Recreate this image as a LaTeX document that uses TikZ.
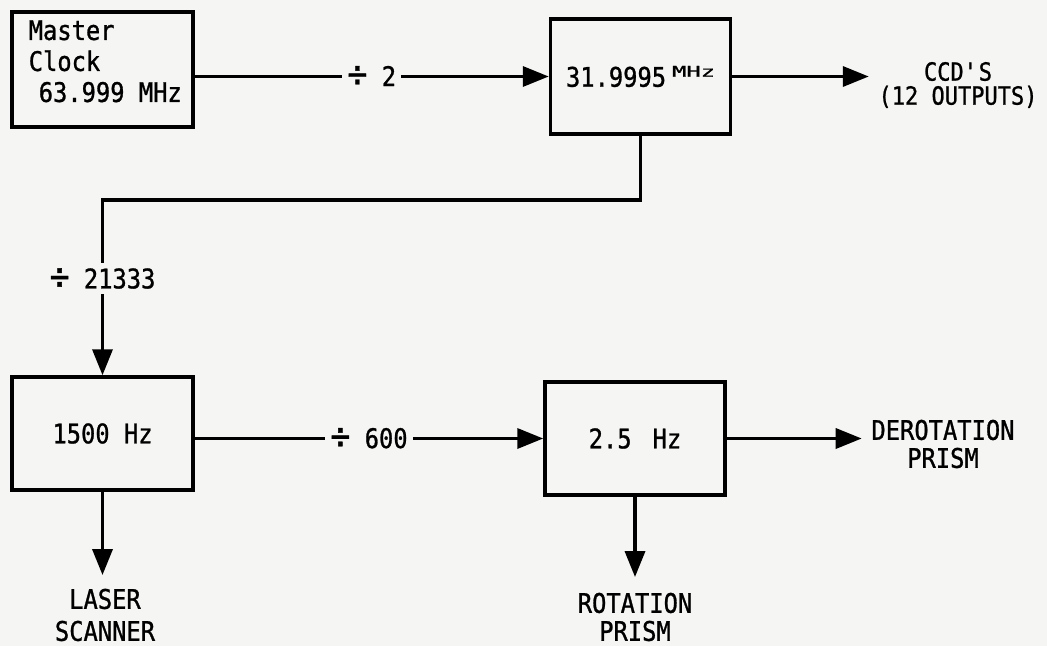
\documentclass[tikz,border=0pt]{standalone}
\usepackage{fontspec}
\usepackage{graphicx}
\setmainfont{DejaVu Sans Mono}[FakeStretch=0.88, FakeBold=1]
\usetikzlibrary{arrows.meta}
\definecolor{paper}{HTML}{F5F5F3}
\newcommand{\divsgn}{\raisebox{-1pt}{\scalebox{1.4}{÷}}}
\begin{document}
\begin{tikzpicture}[x=1pt,y=-1pt,
  line width=3.5pt,
  box/.style={draw, line width=3.5pt, rectangle, minimum width=181pt, minimum height=115pt, inner sep=0pt, font=\fontsize{27}{31}\selectfont},
  lbl/.style={fill=paper, inner xsep=5pt, inner ysep=5pt, font=\fontsize{27}{30}\selectfont},
  outlbl/.style={align=center, inner xsep=6pt, font=\fontsize{27}{28}\selectfont},
  arr/.style={-{Triangle[length=26pt,width=20pt]}},
]
\fill[paper] (0,0) rectangle (1047,646);
\useasboundingbox (0,0) rectangle (1047,646);

% boxes
\node[box] (mc) at (102.5,69.5) {};
\node[anchor=north west, align=left, inner sep=0pt, font=\fontsize{27}{31}\selectfont] (mctext) at (27,18.5) {Master\\Clock\\\hspace{10pt}63.999 MHz};
\node[box, minimum width=180pt] (f32) at (640.5,76.5) {31.9995\hspace{6pt}\raisebox{10pt}{\scalebox{1}[0.55]{MHz}}};
\node[box, minimum height=113pt] (f1500) at (102.5,433.5) {1500 Hz};
\node[box, minimum width=180pt, minimum height=113pt] (f25) at (635,438.5) {2.5\hspace{21pt}Hz};

% output labels
\node[outlbl, inner ysep=6pt, font=\fontsize{25}{24}\selectfont, inner xsep=8pt] (ccd) at (958,85) {CCD\textquotesingle S\\(12 OUTPUTS)};
\node[outlbl, inner ysep=6pt, inner xsep=8pt] (dero) at (943,444) {DEROTATION\\PRISM};
\node[outlbl, inner ysep=14pt] (rot) at (635,617) {ROTATION\\PRISM};
\node[outlbl, inner ysep=12pt, font=\fontsize{27}{32}\selectfont] (laser) at (105,615) {LASER\\SCANNER};

% corners of the feedback path
\coordinate (c1) at (640.5,200);
\coordinate (c2) at (102.5,200);

% connectors
\draw[arr] (mc.east |- f32.west) -- node[lbl]{\divsgn\ 2} (f32.west);
\draw[arr] (f32.east) -- (ccd.west |- f32.east);
\draw[arr] (f32.south) -- (c1) -- (c2) -- node[lbl, pos=0.45]{\divsgn\ 21333} (f1500.north);
\draw[arr] (f1500.east |- f25.west) -- node[lbl]{\divsgn\ 600} (f25.west);
\draw[arr] (f25.east) -- (dero.west |- f25.east);
\draw[arr] (f25.south) -- (rot.north);
\draw[arr] (f1500.south) -- (f1500.south |- laser.north);
\end{tikzpicture}
\end{document}
